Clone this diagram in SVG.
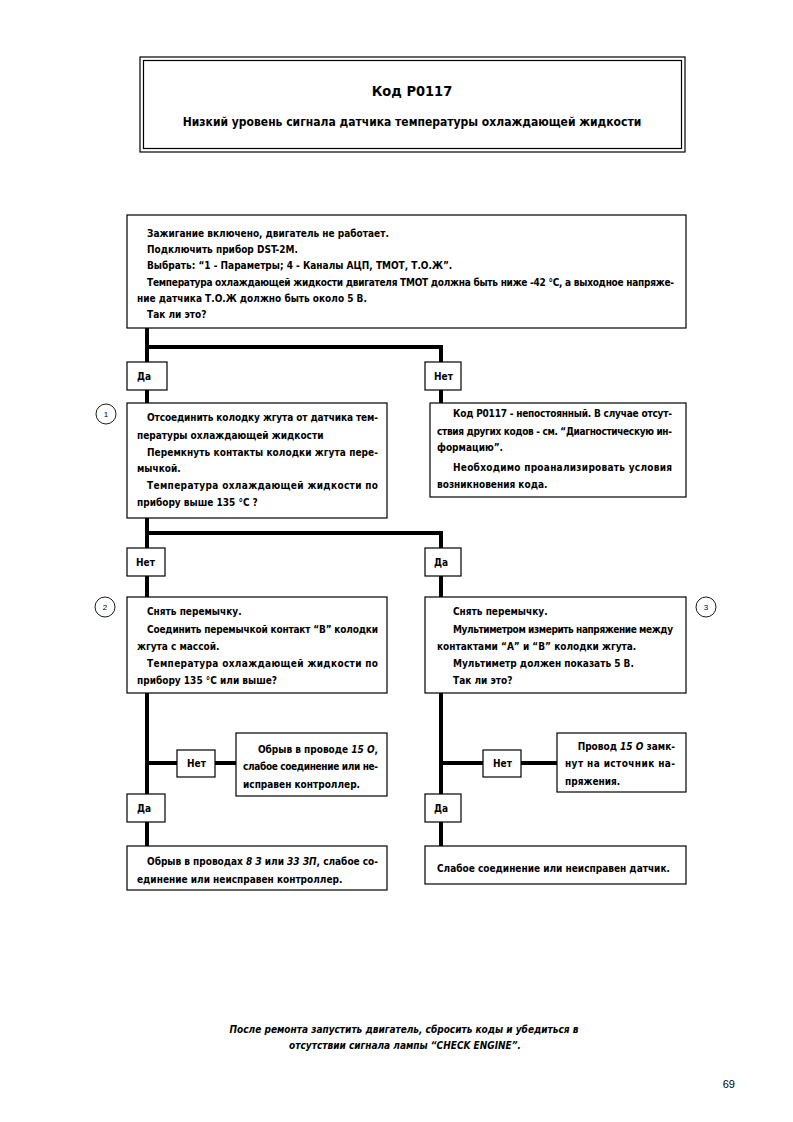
<svg xmlns="http://www.w3.org/2000/svg" width="793" height="1122" viewBox="0 0 793 1122">
<style>
text{font-family:"Liberation Sans Narrow","Arial Narrow","DejaVu Sans Condensed","Liberation Sans",sans-serif;font-weight:bold;font-size:10px;fill:#000}
.box{fill:#fff;stroke:#000;stroke-width:1.2}
.lbl{fill:#fff;stroke:#000;stroke-width:1.2}
.conn{fill:none;stroke:#000;stroke-width:4;stroke-linejoin:miter;stroke-linecap:butt}
.circ{fill:#fff;stroke:#000;stroke-width:0.9}
.num{font-family:"Liberation Sans",Arial,sans-serif;font-weight:normal;font-size:8px;text-anchor:middle}
.it{font-style:italic}
.c{text-anchor:middle}
</style>
<rect width="793" height="1122" fill="#fff"/>

<g id="title">
<rect x="140" y="57" width="545" height="95" fill="#fff" stroke="#000" stroke-width="1.2"/>
<rect x="143.5" y="60.5" width="538" height="88" fill="none" stroke="#000" stroke-width="1.2"/>
<text x="412" y="96" class="c" style="font-size:14.5px">Код P0117</text>
<text x="412" y="126" class="c" style="font-size:12px">Низкий уровень сигнала датчика температуры охлаждающей жидкости</text>
</g>

<g id="connectors">
<path class="conn" d="M147 328 V403"/>
<path class="conn" d="M147 347 H441 V403"/>
<path class="conn" d="M147 518 V597"/>
<path class="conn" d="M147 533 H441 V597"/>
<path class="conn" d="M147 693 V846"/>
<path class="conn" d="M147 763 H236"/>
<path class="conn" d="M441 693 V846"/>
<path class="conn" d="M441 763 H557"/>
</g>

<g id="start">
<rect class="box" x="127" y="215" width="559" height="113"/>
<text x="147" y="237">Зажигание включено, двигатель не работает.</text>
<text x="147" y="253">Подключить прибор DST-2M.</text>
<text x="147" y="269">Выбрать: “1 - Параметры; 4 - Каналы АЦП, ТМОТ, Т.О.Ж”.</text>
<text x="147" y="286" textLength="527" lengthAdjust="spacing">Температура охлаждающей жидкости двигателя ТМОТ должна быть ниже -42 °C, а выходное напряже-</text>
<text x="137" y="302">ние датчика Т.О.Ж должно быть около 5 В.</text>
<text x="147" y="318">Так ли это?</text>
</g>

<g id="lbl-yes1"><rect class="lbl" x="127" y="362" width="40" height="28"/><text x="137" y="380">Да</text></g>
<g id="lbl-no1"><rect class="lbl" x="425" y="362" width="36" height="28"/><text x="434" y="380">Нет</text></g>

<g id="step1">
<circle class="circ" cx="106" cy="414" r="10"/><text class="num" x="106" y="417">1</text>
<rect class="box" x="127" y="403" width="260" height="115"/>
<text x="147" y="421" textLength="231" lengthAdjust="spacing">Отсоединить колодку жгута от датчика тем-</text>
<text x="137" y="439">пературы охлаждающей жидкости</text>
<text x="147" y="456" textLength="231" lengthAdjust="spacing">Перемкнуть контакты колодки жгута пере-</text>
<text x="137" y="472">мычкой.</text>
<text x="147" y="489" textLength="231" lengthAdjust="spacing">Температура охлаждающей жидкости по</text>
<text x="137" y="506">прибору выше 135 °C ?</text>
</g>

<g id="intermittent">
<rect class="box" x="430" y="403" width="256" height="94"/>
<text x="453" y="417" textLength="219" lengthAdjust="spacing">Код P0117 - непостоянный. В случае отсут-</text>
<text x="437" y="435" textLength="235" lengthAdjust="spacing">ствия других кодов - см. “Диагностическую ин-</text>
<text x="437" y="451">формацию”.</text>
<text x="453" y="471" textLength="219" lengthAdjust="spacing">Необходимо проанализировать условия</text>
<text x="437" y="488">возникновения кода.</text>
</g>

<g id="lbl-no2"><rect class="lbl" x="127" y="548" width="38" height="28"/><text x="136" y="566">Нет</text></g>
<g id="lbl-yes2"><rect class="lbl" x="425" y="548" width="36" height="28"/><text x="434" y="566">Да</text></g>

<g id="step2">
<circle class="circ" cx="105" cy="607" r="10"/><text class="num" x="105" y="610">2</text>
<rect class="box" x="127" y="597" width="260" height="96"/>
<text x="147" y="615">Снять перемычку.</text>
<text x="147" y="633" textLength="231" lengthAdjust="spacing">Соединить перемычкой контакт “В” колодки</text>
<text x="137" y="650">жгута с массой.</text>
<text x="147" y="667" textLength="231" lengthAdjust="spacing">Температура охлаждающей жидкости по</text>
<text x="137" y="684">прибору 135 °C или выше?</text>
</g>

<g id="step3">
<circle class="circ" cx="706" cy="607" r="10"/><text class="num" x="706" y="610">3</text>
<rect class="box" x="425" y="597" width="261" height="96"/>
<text x="453" y="615">Снять перемычку.</text>
<text x="453" y="633" textLength="220" lengthAdjust="spacing">Мультиметром измерить напряжение между</text>
<text x="437" y="650">контактами “А” и “В” колодки жгута.</text>
<text x="453" y="667">Мультиметр должен показать 5 В.</text>
<text x="453" y="684">Так ли это?</text>
</g>

<g id="lbl-no3"><rect class="lbl" x="177" y="750" width="38" height="27"/><text x="187" y="767">Нет</text></g>
<g id="res-open15">
<rect class="box" x="236" y="733" width="151" height="63"/>
<text x="378" y="753" text-anchor="end">Обрыв в проводе <tspan class="it">15 О</tspan>,</text>
<text x="243" y="770" textLength="135" lengthAdjust="spacing">слабое соединение или не-</text>
<text x="243" y="788">исправен контроллер.</text>
</g>
<g id="lbl-yes3"><rect class="lbl" x="127" y="794" width="38" height="28"/><text x="137" y="812">Да</text></g>
<g id="res-open8">
<rect class="box" x="127" y="846" width="260" height="44"/>
<text x="147" y="865" textLength="231" lengthAdjust="spacing">Обрыв в проводах <tspan class="it">8 З</tspan> или <tspan class="it">33 ЗП</tspan>, слабое со-</text>
<text x="137" y="883">единение или неисправен контроллер.</text>
</g>

<g id="lbl-no4"><rect class="lbl" x="483" y="750" width="38" height="27"/><text x="493" y="767">Нет</text></g>
<g id="res-short15">
<rect class="box" x="557" y="733" width="129" height="59"/>
<text x="675" y="750" text-anchor="end">Провод <tspan class="it">15 О</tspan> замк-</text>
<text x="565" y="767" textLength="110" lengthAdjust="spacing">нут на источник на-</text>
<text x="565" y="785">пряжения.</text>
</g>
<g id="lbl-yes4"><rect class="lbl" x="425" y="794" width="36" height="28"/><text x="434" y="812">Да</text></g>
<g id="res-sensor">
<rect class="box" x="425" y="846" width="261" height="38"/>
<text x="437" y="872">Слабое соединение или неисправен датчик.</text>
</g>

<g id="footer">
<text x="404" y="1033" class="c it">После ремонта запустить двигатель, сбросить коды и убедиться в</text>
<text x="405" y="1049" class="c it">отсутствии сигнала лампы “CHECK ENGINE”.</text>
<text x="735" y="1088" text-anchor="end" style="font-family:'Liberation Sans',Arial,sans-serif;font-weight:normal;font-size:11px">69</text>
</g>
</svg>
